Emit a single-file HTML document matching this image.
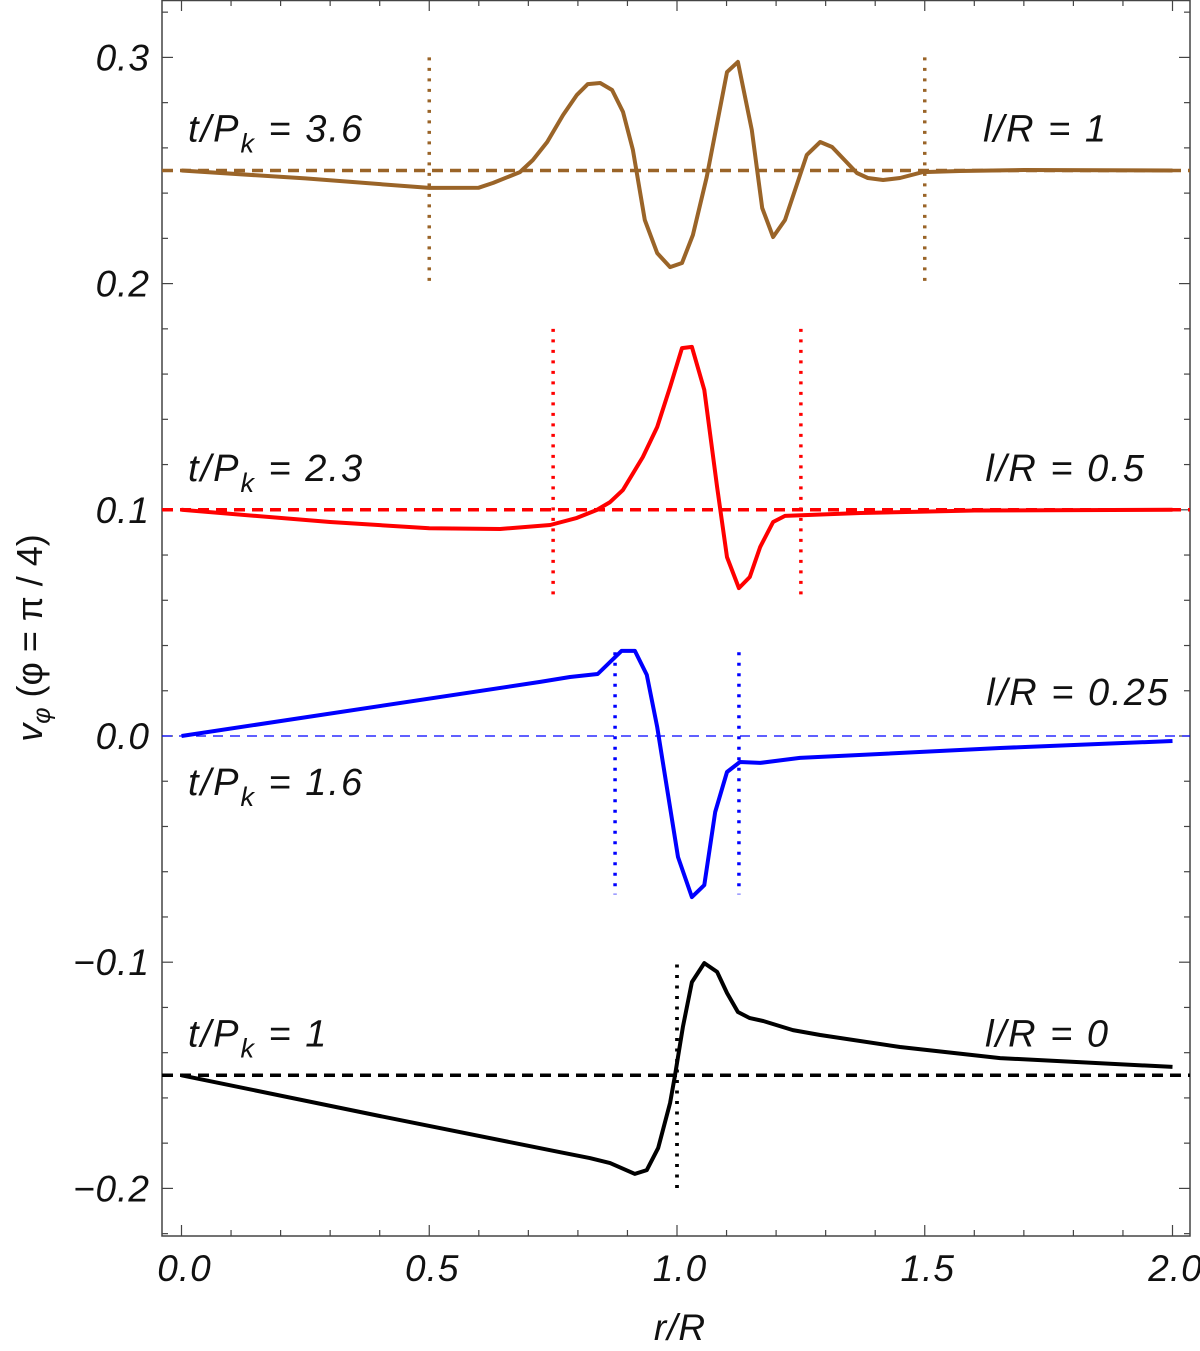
<!DOCTYPE html>
<html><head><meta charset="utf-8">
<style>
html,body{margin:0;padding:0;background:#fff;}
svg{display:block;}
text{font-family:"Liberation Sans",sans-serif;font-style:italic;fill:#111;}
</style></head>
<body>
<svg id="chart" width="1200" height="1351" viewBox="0 0 1200 1351" xmlns="http://www.w3.org/2000/svg">
<g id="frame"></g>
<g id="marks"></g>
<g id="labels"></g>
</svg>
<script>
// ---- data ----
const xTicks = [0.0, 0.5, 1.0, 1.5, 2.0];
const xTickLabels = ["0.0", "0.5", "1.0", "1.5", "2.0"];
const yTicks = [-0.2, -0.1, 0.0, 0.1, 0.2, 0.3];
const yTickLabels = ["\u22120.2", "\u22120.1", "0.0", "0.1", "0.2", "0.3"];

const brownR = [0, 0.25, 0.5, 0.6, 0.629, 0.683, 0.709, 0.738, 0.770, 0.798, 0.820, 0.845, 0.869, 0.891, 0.911, 0.935, 0.960, 0.986, 1.010, 1.032, 1.060, 1.101, 1.123, 1.151, 1.172, 1.194, 1.218, 1.262, 1.289, 1.313, 1.363, 1.385, 1.416, 1.450, 1.496, 1.571, 1.7, 2.0];
const brownV = [0.25, 0.2465, 0.2423, 0.2424, 0.2445, 0.2493, 0.2546, 0.2626, 0.2745, 0.2834, 0.2882, 0.2887, 0.2856, 0.2759, 0.2591, 0.2281, 0.2135, 0.2073, 0.2091, 0.2215, 0.2471, 0.2935, 0.2980, 0.2679, 0.2334, 0.2206, 0.2281, 0.2569, 0.2626, 0.2604, 0.2489, 0.2467, 0.2458, 0.2467, 0.2493, 0.2498, 0.2502, 0.25];

const redR = [0, 0.3, 0.5, 0.643, 0.744, 0.798, 0.838, 0.865, 0.891, 0.931, 0.960, 0.986, 1.010, 1.030, 1.055, 1.081, 1.101, 1.125, 1.147, 1.168, 1.194, 1.218, 1.370, 1.6, 2.0];
const redV = [0.1, 0.0946, 0.0918, 0.0915, 0.0933, 0.0964, 0.0999, 0.1034, 0.1088, 0.1233, 0.1366, 0.1543, 0.1715, 0.1720, 0.1530, 0.1101, 0.0791, 0.0654, 0.0703, 0.0836, 0.0946, 0.0973, 0.0986, 0.0997, 0.1];

const blueR = [0, 0.724, 0.784, 0.840, 0.888, 0.915, 0.939, 0.960, 1.002, 1.030, 1.055, 1.077, 1.101, 1.127, 1.168, 1.248, 1.652, 2.0];
const blueV = [0, 0.0239, 0.0261, 0.0274, 0.0376, 0.0376, 0.0270, 0.0040, -0.0535, -0.0712, -0.0659, -0.0336, -0.0159, -0.0115, -0.0119, -0.0097, -0.0053, -0.0022];

const blackR = [0, 0.4, 0.764, 0.824, 0.865, 0.915, 0.939, 0.962, 0.986, 0.996, 1.012, 1.030, 1.055, 1.081, 1.101, 1.123, 1.147, 1.174, 1.234, 1.289, 1.450, 1.652, 2.0];
const blackV = [-0.15, -0.168, -0.1840, -0.1866, -0.1888, -0.1936, -0.1919, -0.1821, -0.1622, -0.15, -0.1286, -0.1088, -0.1004, -0.1043, -0.1136, -0.1220, -0.1247, -0.1260, -0.1300, -0.1322, -0.1375, -0.1424, -0.1463];

const baselines = [0.25, 0.1, 0.0, -0.15];
const markerR = [[0.5, 1.5], [0.75, 1.25], [0.875, 1.125], [1.0, 1.0]];
const markerTop = [0.3, 0.18, 0.037, -0.101];
const markerBottom = [0.2, 0.06, -0.07, -0.2];
const timeLabels = ["3.6", "2.3", "1.6", "1"];
const timeLabelV = [0.269, 0.119, -0.020, -0.131];
const lenLabels = ["1", "0.5", "0.25", "0"];
const lenLabelV = [0.269, 0.119, 0.020, -0.131];

// ---- axes ----
const X0 = 181.5, XS = 495.5, Y0 = 736, YS = 2262;
const L = 162, R = 1190, T = 0, B = 1236;
function sx(r){ return X0 + r * XS; }
function sy(v){ return Y0 - v * YS; }

const NS = "http://www.w3.org/2000/svg";
function mk(parent, tag, attrs){
  const e = document.createElementNS(NS, tag);
  for (const k in attrs) e.setAttribute(k, attrs[k]);
  parent.appendChild(e);
  return e;
}
const frame = document.getElementById('frame');
const marks = document.getElementById('marks');
const labels = document.getElementById('labels');

const box = mk(frame, 'rect', {x: L, y: T + 0.5, width: R - L, height: B - T - 0.5, fill: 'none', stroke: '#444', 'stroke-width': 1.5});



for (let i = 0; i <= 20; i++) {
  const r = i / 10, x = sx(r), len = (i % 5 === 0) ? 11 : 6;
  const tb = mk(frame, 'line', {x1: x, x2: x, y1: B, y2: B - len, stroke: '#444', 'stroke-width': 1.2});
  
  
  const tt = mk(frame, 'line', {x1: x, x2: x, y1: T, y2: T + len, stroke: '#444', 'stroke-width': 1.2});
  
  
}
for (let i = -11; i <= 16; i++) {
  const v = i * 0.02, y = sy(v);
  if (y < T || y > B) continue;
  const len = (i % 5 === 0) ? 11 : 6;
  const tl = mk(frame, 'line', {x1: L, x2: L + len, y1: y, y2: y, stroke: '#444', 'stroke-width': 1.2});
  
  
  const tr = mk(frame, 'line', {x1: R, x2: R - len, y1: y, y2: y, stroke: '#444', 'stroke-width': 1.2});
  
  
}
xTicks.forEach((r, i) => {
  const t = mk(labels, 'text', {x: sx(r) + 3, y: 1281, 'text-anchor': 'middle', 'font-size': 37, 'letter-spacing': 1});
  t.textContent = xTickLabels[i];
  
  
});
yTicks.forEach((v, i) => {
  const t = mk(labels, 'text', {x: 150, y: sy(v) + 13, 'text-anchor': 'end', 'font-size': 37, 'letter-spacing': 1});
  t.textContent = yTickLabels[i];
  
  
});

const colors = ['#9a6428', '#ff0000', '#0000ff', '#000000'];
const names = ['brown', 'red', 'blue', 'black'];
const seriesR = [brownR, redR, blueR, blackR];
const seriesV = [brownV, redV, blueV, blackV];
const lenRight = [1108, 1146, 1170, 1110];

for (let k = 0; k < 4; k++) {
  const c = colors[k];
  const y = sy(baselines[k]);
  const thin = (k === 2);
  const bl = mk(marks, 'line', {x1: L, x2: R, y1: y, y2: y, stroke: c,
    'stroke-width': thin ? 1.2 : 3.5, 'stroke-dasharray': thin ? '10 7' : '11 7'});
  
  
  markerR[k].forEach(r => {
    const vl = mk(marks, 'line', {x1: sx(r), x2: sx(r), y1: sy(markerTop[k]), y2: sy(markerBottom[k]),
      stroke: c, 'stroke-width': 3.5, 'stroke-dasharray': '3 7.5'});
    
    
  });
  const pts = seriesR[k].map((r, i) => sx(r).toFixed(1) + ',' + sy(seriesV[k][i]).toFixed(1)).join(' ');
  const pl = mk(marks, 'polyline', {points: pts, fill: 'none', stroke: c, 'stroke-width': 4, 'stroke-linejoin': 'round'});
  
  

  const tl = mk(labels, 'text', {x: 188, y: sy(timeLabelV[k]) + 14, 'font-size': 38, 'letter-spacing': 2});
  tl.innerHTML = 't/P<tspan font-size="27" dy="11">k</tspan><tspan dy="-11"> = ' + timeLabels[k] + '</tspan>';
  
  
  const ll = mk(labels, 'text', {x: lenRight[k], y: sy(lenLabelV[k]) + 14, 'text-anchor': 'end', 'font-size': 38, 'letter-spacing': 2});
  ll.textContent = 'l/R = ' + lenLabels[k];
  
  
}

const xt = mk(labels, 'text', {x: 680, y: 1340, 'text-anchor': 'middle', 'font-size': 37, 'letter-spacing': 1});
xt.textContent = 'r/R';


const yt = mk(labels, 'text', {x: 0, y: 0, 'text-anchor': 'middle', 'font-size': 36, transform: 'translate(42,638) rotate(-90)'});
yt.innerHTML = '<tspan>v</tspan><tspan font-size="25" dy="8">\u03c6</tspan><tspan dy="-8" font-style="normal"> (\u03c6 = \u03c0 / 4)</tspan>';


</script>
</body></html>
